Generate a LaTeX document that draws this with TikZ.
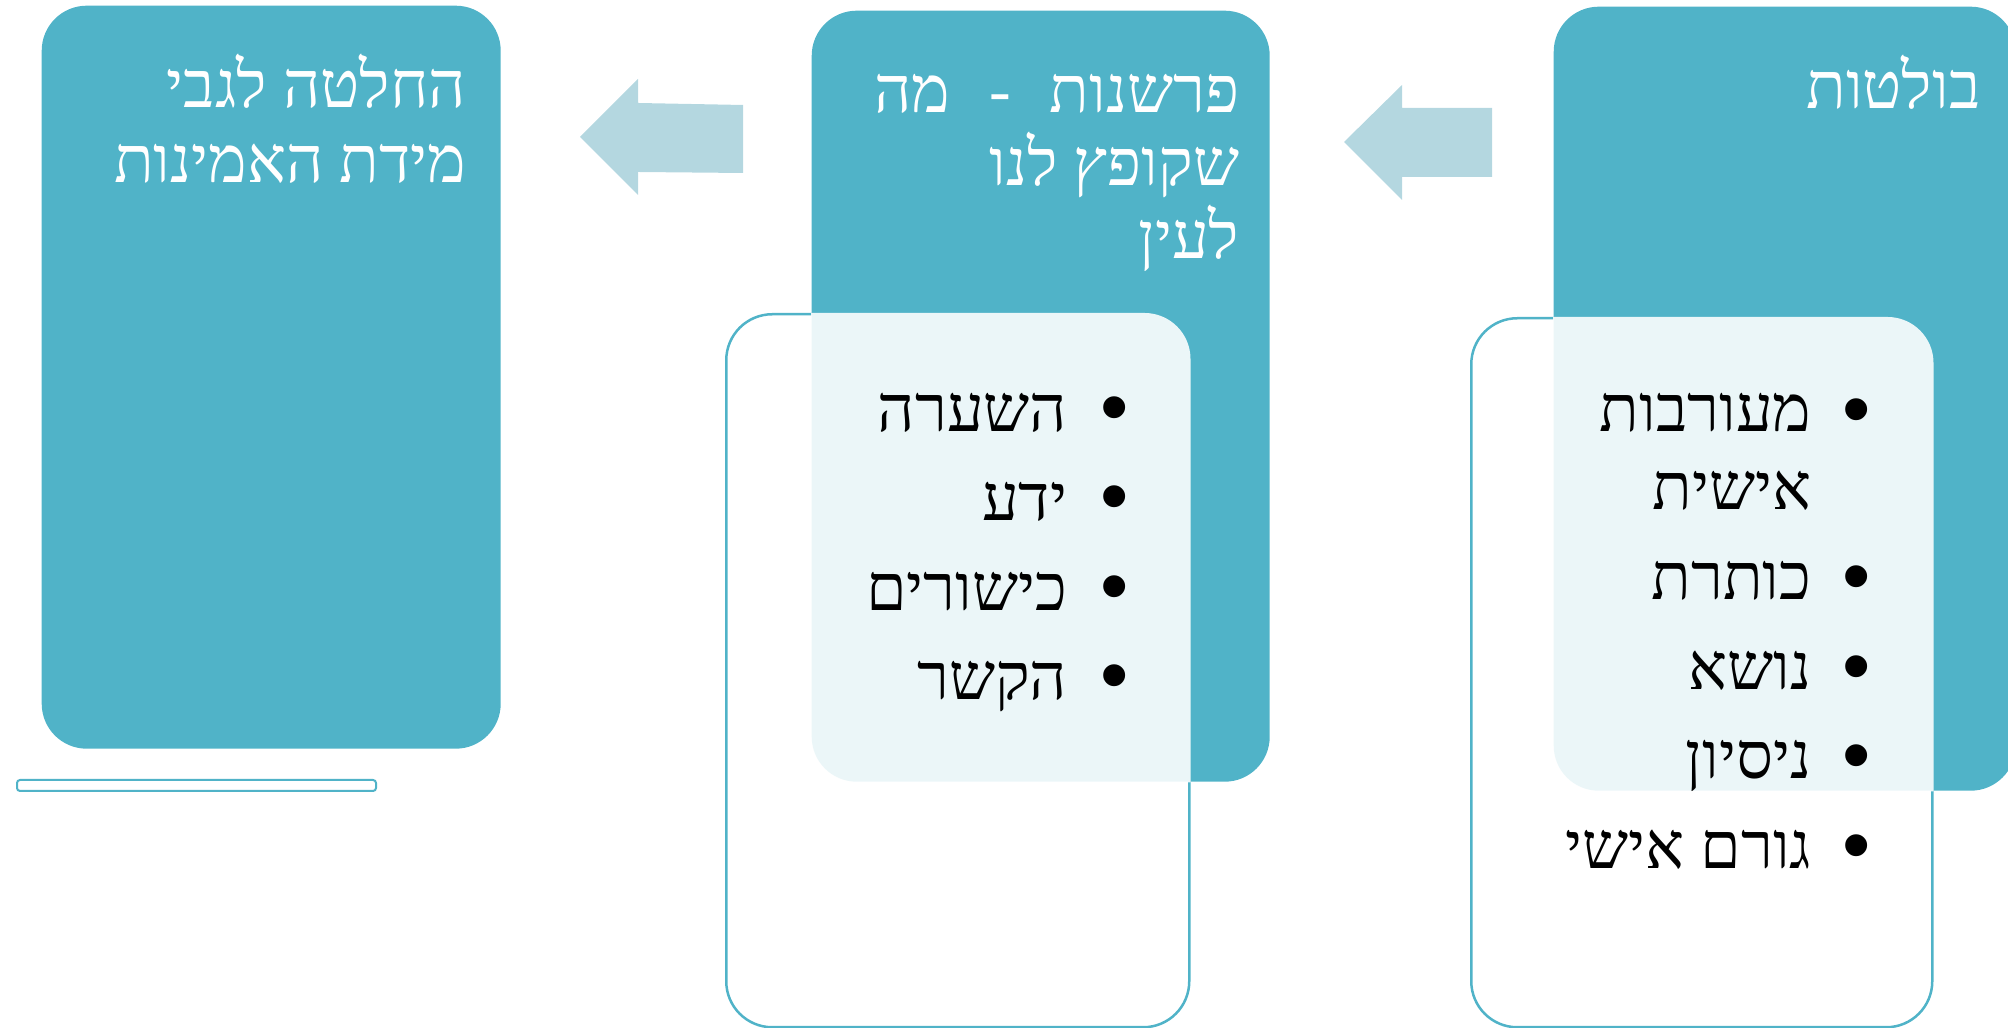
\documentclass[tikz,border=0pt]{standalone}
\usepackage{fontspec}
\TeXXeTstate=1
\newfontfamily\hebfont[Script=Hebrew]{Liberation Serif}
\newfontfamily\bulfont{Liberation Sans}
\definecolor{boxteal}{HTML}{50B3C8}
\definecolor{arrowblue}{HTML}{B4D7E0}
\tikzset{
  bigbox/.style={fill=boxteal, draw=none, rounded corners=4.5mm, inner sep=0pt, anchor=north west},
  outbox/.style={fill=white, draw=boxteal, line width=0.25mm, rounded corners=4.6mm, inner sep=0pt, anchor=north west},
  title/.style={font=\hebfont\fontsize{18.5}{22}\selectfont, text=white, inner sep=0pt, anchor=base east},
  item/.style={font=\hebfont\fontsize{18.5}{22}\selectfont, text=black, inner sep=0pt, anchor=base east},
  bul/.style={font=\bulfont\fontsize{23}{26}\selectfont, inner sep=0pt, anchor=center},
  blockarrow/.style={fill=arrowblue, draw=none},
}
\begin{document}
\begin{tikzpicture}[x=0.1mm,y=-0.1mm]
\useasboundingbox (0,0) rectangle (2008,1028);
% left column
\node[bigbox, minimum width=45.9mm, minimum height=74.3mm] (L) at (41,5) {};
\node[outbox, rounded corners=0.3mm, line width=0.2mm, minimum width=35.9mm, minimum height=1.1mm] (bar) at (16,779) {};
% middle column
\node[outbox, minimum width=46.3mm, minimum height=71.3mm] (O1) at (725,313) {};
\node[bigbox, minimum width=45.8mm, minimum height=77.1mm] (M) at (811,10) {};
\begin{scope}
  \clip[rounded corners=4.5mm] (M.north west) rectangle (M.south east);
  \fill[white, opacity=0.89, rounded corners=4.6mm] (O1.north west) rectangle (O1.south east);
\end{scope}
% right column
\node[outbox, minimum width=46.1mm, minimum height=70.9mm] (O2) at (1470,317) {};
\node[bigbox, minimum width=46.2mm, minimum height=78.4mm] (R) at (1553,6) {};
\begin{scope}
  \clip[rounded corners=4.5mm] (R.north west) rectangle (R.south east);
  \fill[white, opacity=0.89, rounded corners=4.6mm] (O2.north west) rectangle (O2.south east);
\end{scope}
% block arrows
\fill[blockarrow] (580,137) -- (638,79) -- (638,103) -- (743,105) -- (743,173) -- (638,172) -- (638,195) -- cycle;
\fill[blockarrow] (1344,142) -- (1402,85) -- (1402,108) -- (1492,108) -- (1492,177) -- (1402,177) -- (1402,200) -- cycle;
% titles
\node[title] (Lt1) at (467,108) {\beginR החלטה לגבי\endR};
\node[title] (Lt2) at (467,183) {\beginR מידת האמינות\endR};
\node[title] (Mt1) at (1240,113) {\beginR פרשנות\hspace{0.6em}-\hspace{0.6em}מה\endR};
\node[title] (Mt2) at (1240,186) {\beginR שקופץ לנו\endR};
\node[title] (Mt3) at (1240,259) {\beginR לעין\endR};
\node[title] (Rt1) at (1981,109) {\beginR בולטות\endR};
% middle list
\node[bul] (mb1) at (1115,416) {•};
\node[bul] (mb2) at (1115,505) {•};
\node[bul] (mb3) at (1115,595) {•};
\node[bul] (mb4) at (1115,684) {•};
\node[item] (mi1) at (1068,432) {\beginR השערה\endR};
\node[item] (mi2) at (1068,521) {\beginR ידע\endR};
\node[item] (mi3) at (1068,611) {\beginR כישורים\endR};
\node[item] (mi4) at (1068,700) {\beginR הקשר\endR};
% right list
\node[bul] (rb1) at (1857,418) {•};
\node[bul] (rb2) at (1857,585) {•};
\node[bul] (rb3) at (1857,675) {•};
\node[bul] (rb4) at (1857,764) {•};
\node[bul] (rb5) at (1857,854) {•};
\node[item] (ri1) at (1812,432) {\beginR מעורבות\endR};
\node[item] (ri1b) at (1812,510) {\beginR אישית\endR};
\node[item] (ri2) at (1812,600) {\beginR כותרת\endR};
\node[item] (ri3) at (1812,690) {\beginR נושא\endR};
\node[item] (ri4) at (1812,779) {\beginR ניסיון\endR};
\node[item] (ri5) at (1812,869) {\beginR גורם אישי\endR};
\end{tikzpicture}
\end{document}
